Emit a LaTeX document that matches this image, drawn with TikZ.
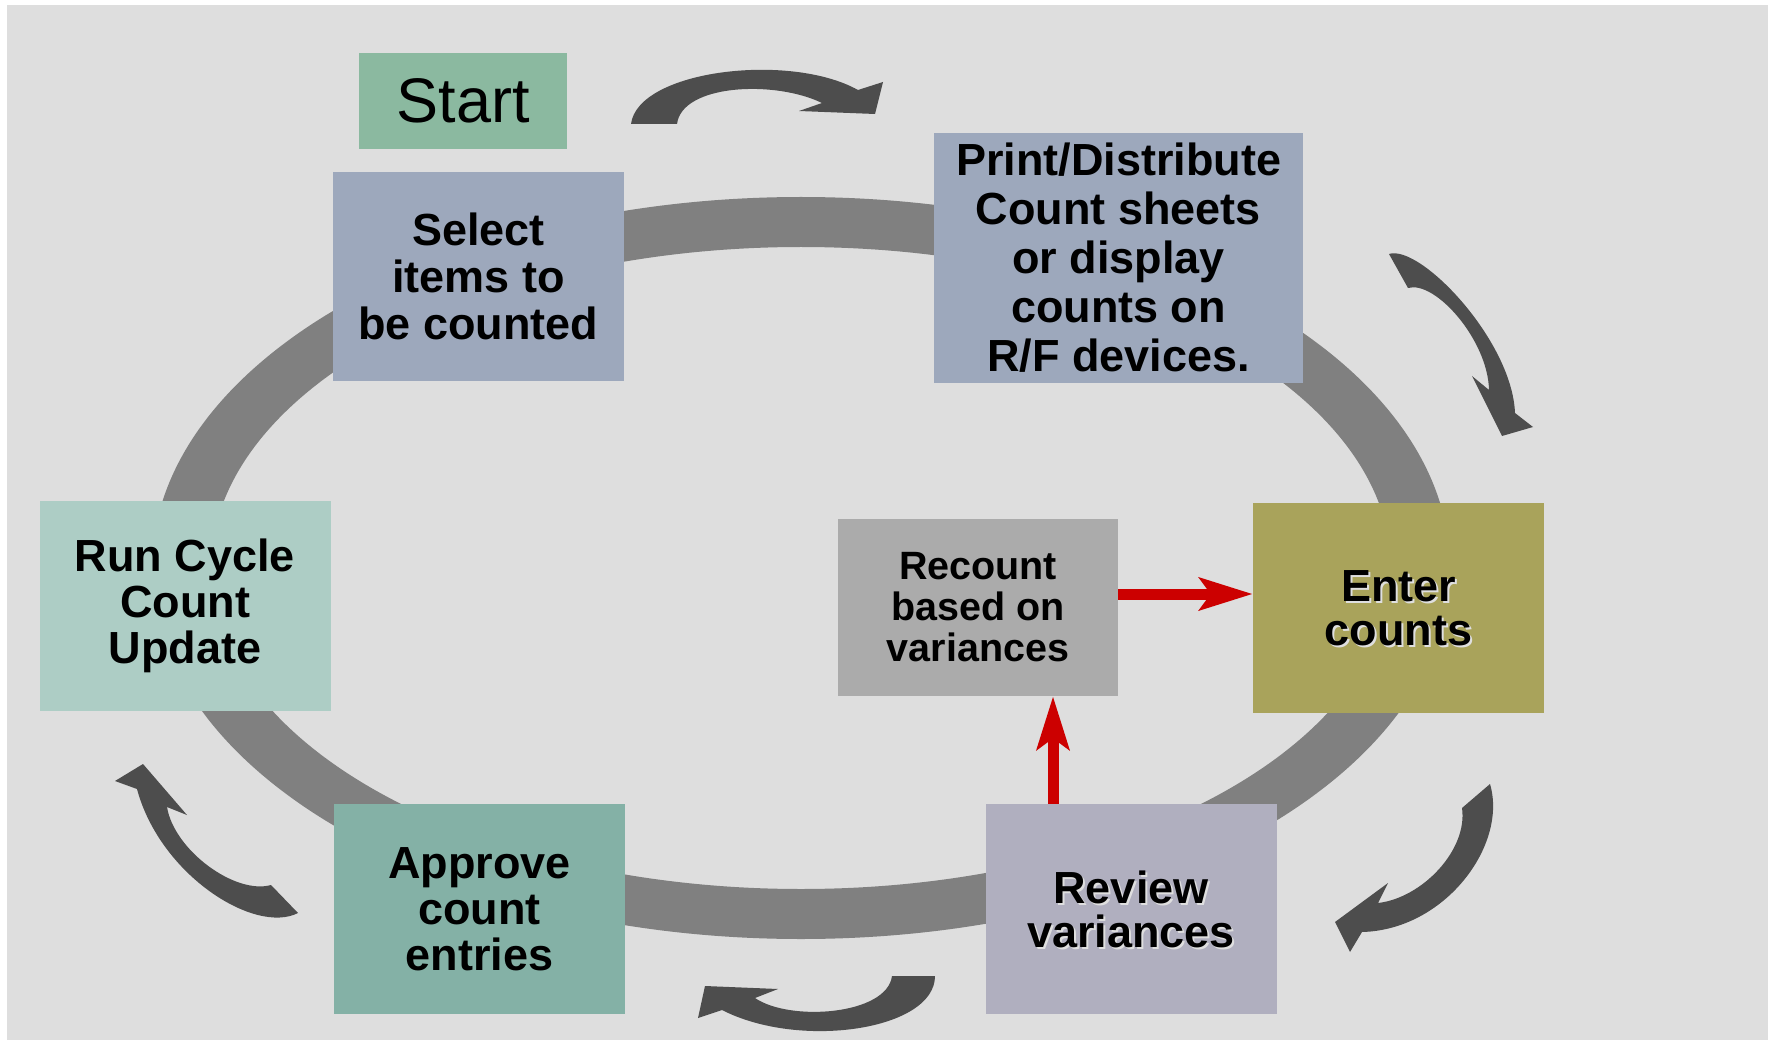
\documentclass[tikz,border=0pt]{standalone}
\usepackage{fontspec}
\setmainfont{Liberation Sans}
\usetikzlibrary{arrows.meta}
\definecolor{bgc}{HTML}{DEDEDE}
\definecolor{ringc}{HTML}{808080}
\definecolor{darkc}{HTML}{4D4D4D}
\definecolor{startc}{HTML}{8BB9A0}
\definecolor{selc}{HTML}{9DA8BC}
\definecolor{runc}{HTML}{ADCDC5}
\definecolor{enterc}{HTML}{A9A35B}
\definecolor{recc}{HTML}{ABABAB}
\definecolor{appc}{HTML}{84B1A6}
\definecolor{revc}{HTML}{B0AFBF}
\definecolor{redc}{HTML}{CC0000}
\tikzset{
  box/.style={inner sep=0pt, align=center, text=black,
    font=\fontsize{45}{47}\selectfont\bfseries},
  bigbox/.style={box, minimum width=291pt, minimum height=210pt},
  shadowtext/.style={inner sep=0pt, align=center, text=white!75!gray,
    font=\fontsize{45}{44}\selectfont\bfseries},
  plaintext/.style={inner sep=0pt, align=center, text=black,
    font=\fontsize{45}{44}\selectfont\bfseries},
  redarrow/.style={draw=redc, line width=11pt,
    -{Stealth[length=53pt,width=32pt,inset=11pt]}},
  curvearrow/.style={fill=darkc}
}
\begin{document}
\begin{tikzpicture}[x=1pt,y=-1pt]
\useasboundingbox (0,0) rectangle (1772,1040);
\fill[bgc] (7,5) rectangle (1768,1040);

% ring
\fill[ringc, even odd rule] (801,568) ellipse [x radius=649pt, y radius=371pt]
  (801,568) ellipse [x radius=590pt, y radius=321pt];

% boxes
\node[box, fill=startc, minimum width=208pt, minimum height=96pt,
  font=\fontsize{63}{66}\selectfont] (start) at (463,101) {Start};
\node[box, fill=selc, minimum width=291pt, minimum height=209pt] (select)
  at (478.5,276.5) {Select\\items to\\be counted};
\node[box, fill=selc, minimum width=369pt, minimum height=250pt,
  font=\fontsize{45}{49}\selectfont\bfseries] (print)
  at (1118.5,258) {Print/Distribute\\Count sheets\\or display\\counts on\\R/F devices.};
\node[bigbox, fill=runc, font=\fontsize{45}{46}\selectfont\bfseries] (run)
  at (185,606) {Run Cycle\\Count\\Update};
\node[bigbox, fill=enterc] (enter) at (1398.5,608) {};
\node[box, fill=recc, minimum width=280pt, minimum height=177pt,
  font=\fontsize{39.5}{41}\selectfont\bfseries] (recount)
  at (978,607.5) {Recount\\based on\\variances};
\node[bigbox, fill=appc, font=\fontsize{45}{46}\selectfont\bfseries] (approve)
  at (479.5,909) {Approve\\count\\entries};
\node[bigbox, fill=revc] (review) at (1131,909) {};

% shadowed texts
\node[shadowtext] (entersh) at ([shift={(2,2)}]enter.center) {Enter\\counts};
\node[plaintext] (entertx) at (enter.center) {Enter\\counts};
\node[shadowtext] (reviewsh) at ([shift={(2,2)}]review.center) {Review\\variances};
\node[plaintext] (reviewtx) at (review.center) {Review\\variances};

% red arrows
\coordinate (hy) at (0,594);
\coordinate (vx) at (1053,0);
\draw[redarrow] (recount.east |- hy) -- (enter.west |- hy);
\draw[redarrow] (vx |- review.north) -- (vx |- recount.south);

% curved arrows
\fill[curvearrow] (631,124) .. controls (638,70) and (790,52) .. (858,90)
  -- (883,82) -- (875,114) -- (799,111) -- (822,103)
  .. controls (775,80) and (682,84) .. (677,124) -- cycle;

\fill[curvearrow] (1389,254) .. controls (1420,244) and (1512,340) .. (1515,413)
  -- (1533,427) -- (1502,436) -- (1472,376) -- (1489,390)
  .. controls (1488,340) and (1435,280) .. (1408,288) -- cycle;

\fill[curvearrow] (1490,784) .. controls (1508,845) and (1445,930) .. (1362,932)
  -- (1350,952) -- (1335,922) -- (1388,883) -- (1378,903)
  .. controls (1422,898) and (1468,850) .. (1462,808) -- cycle;

\fill[curvearrow] (935,976) .. controls (935,1030) and (800,1050) .. (722,1010)
  -- (698,1018) -- (705,986) -- (778,989) -- (755,998)
  .. controls (790,1022) and (887,1015) .. (892,976) -- cycle;

\fill[curvearrow] (298,913) .. controls (255,935) and (160,875) .. (137,789)
  -- (115,781) -- (143,764) -- (187,815) -- (167,807)
  .. controls (174,850) and (235,895) .. (271,885) -- cycle;
\end{tikzpicture}
\end{document}
